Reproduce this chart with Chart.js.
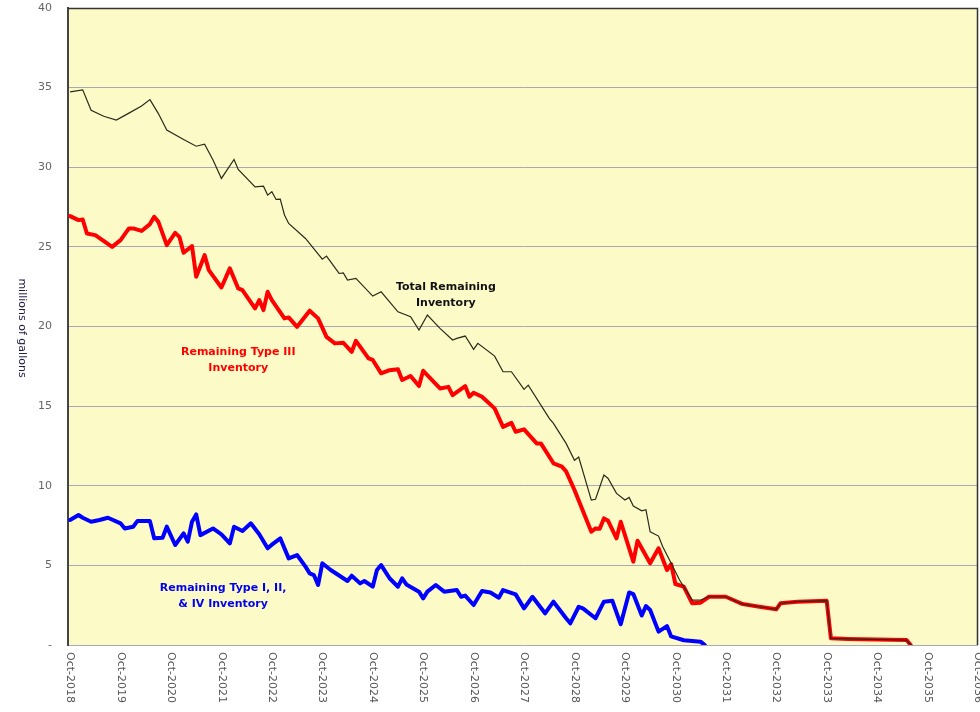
<!DOCTYPE html>
<html>
<head>
<meta charset="utf-8">
<script src="https://cdn.jsdelivr.net/npm/chart.js@4.4.1/dist/chart.umd.min.js"></script>
<style>
  html, body { margin: 0; padding: 0; background: #ffffff; }
  #wrap { width: 980px; height: 712px; position: relative; }
</style>
</head>
<body>
<div id="wrap"><canvas id="myChart"></canvas></div>
<script>
// x values are months after Oct-2018
var tickLabels = ['Oct-2018', 'Oct-2019', 'Oct-2020', 'Oct-2021', 'Oct-2022', 'Oct-2023', 'Oct-2024',
  'Oct-2025', 'Oct-2026', 'Oct-2027', 'Oct-2028', 'Oct-2029', 'Oct-2030', 'Oct-2031', 'Oct-2032',
  'Oct-2033', 'Oct-2034', 'Oct-2035', 'Oct-2036'];

var totalMonths = [0, 3, 5, 8, 11, 14, 17, 19, 21, 23, 27, 30, 32, 34, 36, 39, 40, 44, 46, 47, 48, 49, 50,
  51, 52, 56, 60, 61, 64, 65, 66, 68, 72, 74, 78, 81, 83, 85, 88, 91, 92, 94, 96, 97, 101, 103, 105, 108,
  109, 114, 115, 118, 120, 121, 124, 125, 127, 128, 130, 132, 133, 134, 136, 137, 138, 140, 141, 143, 145,
  147, 148, 150, 152, 156, 160, 164, 168, 169, 173, 180, 181, 185, 199, 200];
var totalValues = [34.73, 34.86, 33.58, 33.2, 32.96, 33.4, 33.84, 34.25, 33.37, 32.33, 31.74, 31.32, 31.45,
  30.45, 29.3, 30.49, 29.86, 28.77, 28.81, 28.25, 28.46, 27.98, 28.0, 27.0, 26.47, 25.53, 24.23, 24.42,
  23.33, 23.37, 22.91, 23.02, 21.91, 22.18, 20.92, 20.61, 19.77, 20.72, 19.88, 19.15, 19.25, 19.4, 18.56,
  18.94, 18.14, 17.16, 17.16, 16.05, 16.32, 14.23, 13.92, 12.66, 11.6, 11.8, 9.1, 9.15, 10.67, 10.46,
  9.52, 9.1, 9.27, 8.73, 8.43, 8.5, 7.11, 6.84, 6.17, 5.13, 4.08, 3.24, 2.82, 2.82, 3.03, 3.03, 2.57,
  2.4, 2.24, 2.62, 2.72, 2.78, 0.42, 0.38, 0.31, 0];

var typeIIIMonths = [0, 2, 3, 4, 6, 10, 12, 14, 15, 17, 19, 20, 21, 23, 25, 26, 27, 29, 30, 32, 33, 36, 38,
  40, 41, 44, 45, 46, 47, 48, 51, 52, 54, 57, 59, 61, 63, 65, 67, 68, 71, 72, 74, 76, 78, 79, 81, 83, 84,
  88, 90, 91, 94, 95, 96, 98, 101, 103, 105, 106, 108, 111, 112, 115, 117, 118, 120, 124, 125, 126, 127,
  128, 130, 131, 134, 135, 138, 140, 142, 143, 144, 146, 148, 150, 152, 156, 160, 164, 168, 169, 173,
  180, 181, 185, 199, 200];
var typeIIIValues = [26.93, 26.68, 26.72, 25.84, 25.74, 25.0, 25.42, 26.16, 26.16, 26.0, 26.43, 26.89,
  26.57, 25.11, 25.88, 25.63, 24.63, 25.05, 23.12, 24.48, 23.54, 22.45, 23.65, 22.39, 22.28, 21.14, 21.66,
  21.03, 22.18, 21.66, 20.51, 20.57, 19.98, 20.99, 20.51, 19.35, 18.94, 18.98, 18.41, 19.1, 18.0, 17.9,
  17.06, 17.26, 17.31, 16.64, 16.89, 16.26, 17.22, 16.11, 16.21, 15.69, 16.26, 15.59, 15.84, 15.59, 14.86,
  13.7, 13.95, 13.39, 13.54, 12.66, 12.66, 11.41, 11.2, 10.9, 9.73, 7.11, 7.32, 7.3, 7.95, 7.8, 6.7, 7.74,
  5.23, 6.55, 5.13, 6.07, 4.71, 5.08, 3.83, 3.66, 2.62, 2.66, 3.03, 3.03, 2.57, 2.4, 2.24, 2.62, 2.72,
  2.78, 0.42, 0.38, 0.31, 0];

var typeOtherMonths = [0, 2, 3, 5, 7, 9, 12, 13, 15, 16, 19, 20, 22, 23, 25, 27, 28, 29, 30, 31, 34, 36,
  38, 39, 41, 43, 45, 47, 48, 50, 52, 54, 56, 57, 58, 59, 60, 62, 66, 67, 69, 70, 72, 73, 74, 76, 78, 79,
  80, 83, 84, 85, 87, 89, 92, 93, 94, 96, 98, 100, 102, 103, 106, 108, 110, 113, 115, 118, 119, 121, 122,
  125, 127, 129, 131, 133, 134, 136, 137, 138, 140, 142, 143, 146, 150, 151];
var typeOtherValues = [7.85, 8.16, 7.99, 7.74, 7.85, 7.99, 7.64, 7.32, 7.43, 7.78, 7.78, 6.7, 6.74, 7.43,
  6.28, 7.01, 6.49, 7.74, 8.2, 6.9, 7.32, 6.95, 6.38, 7.43, 7.16, 7.64, 6.95, 6.07, 6.3, 6.7, 5.44, 5.65,
  4.92, 4.5, 4.39, 3.77, 5.13, 4.71, 4.02, 4.35, 3.87, 4.02, 3.66, 4.71, 5.02, 4.19, 3.66, 4.19, 3.8,
  3.35, 2.93, 3.35, 3.77, 3.35, 3.45, 3.03, 3.1, 2.51, 3.39, 3.3, 2.97, 3.45, 3.18, 2.3, 3.03, 1.99, 2.72,
  1.68, 1.36, 2.4, 2.3, 1.68, 2.72, 2.78, 1.3, 3.3, 3.2, 1.85, 2.45, 2.2, 0.84, 1.19, 0.54, 0.3, 0.21, 0];

function pts(xs, ys) {
  return xs.map(function (m, i) { return { x: m, y: ys[i] }; });
}

// text labels placed in data coordinates (month, value)
var notes = [
  { lines: ['Total Remaining', 'Inventory'], x: 89.4, y: 22.5, color: '#111111' },
  { lines: ['Remaining Type III', 'Inventory'], x: 40, y: 18.4, color: '#ff0000' },
  { lines: ['Remaining Type I, II,', '& IV Inventory'], x: 36.4, y: 3.6, color: '#0000ee' }
];

var decor = {
  id: 'decor',
  beforeDraw: function (chart) {
    var a = chart.chartArea, ctx = chart.ctx;
    ctx.save();
    ctx.fillStyle = 'rgb(252,251,200)';
    ctx.fillRect(a.left, a.top, a.right - a.left, a.bottom - a.top);
    ctx.restore();
  },
  beforeDatasetsDraw: function (chart) {
    var a = chart.chartArea, ctx = chart.ctx;
    ctx.save();
    ctx.strokeStyle = '#333333';
    ctx.lineWidth = 1.5;
    ctx.beginPath();
    ctx.moveTo(a.left, a.top + 0.5);
    ctx.lineTo(a.right - 0.5, a.top + 0.5);
    ctx.lineTo(a.right - 0.5, a.bottom);
    ctx.stroke();
    ctx.restore();
  },
  afterDraw: function (chart) {
    var ctx = chart.ctx, xs = chart.scales.x, ys = chart.scales.y;
    ctx.save();
    // x tick labels, reading downwards
    ctx.fillStyle = '#555555';
    ctx.font = '11px "DejaVu Sans"';
    ctx.textAlign = 'left';
    ctx.textBaseline = 'middle';
    tickLabels.forEach(function (t, i) {
      var px = xs.getPixelForValue(i * 12);
      ctx.save();
      ctx.translate(px, chart.chartArea.bottom + 7);
      ctx.rotate(Math.PI / 2);
      ctx.fillText(t, 0, 0);
      ctx.restore();
    });
    // y axis title
    ctx.save();
    ctx.fillStyle = '#1c1c44';
    ctx.textAlign = 'center';
    ctx.translate(22, 328);
    ctx.rotate(Math.PI / 2);
    ctx.fillText('millions of gallons', 0, 0);
    ctx.restore();
    // series notes
    ctx.font = 'bold 11px "DejaVu Sans"';
    ctx.textAlign = 'center';
    notes.forEach(function (n) {
      ctx.fillStyle = n.color;
      var px = xs.getPixelForValue(n.x), py = ys.getPixelForValue(n.y);
      n.lines.forEach(function (l, k) {
        ctx.fillText(l, px, py + k * 16);
      });
    });
    ctx.restore();
  }
};

var config = {
  type: 'line',
  data: {
    datasets: [
      {
        label: 'Total Remaining Inventory',
        data: pts(totalMonths, totalValues),
        borderColor: '#2a2a1a',
        borderWidth: 1.2,
        pointRadius: 0,
        order: 0
      },
      {
        label: 'Remaining Type III Inventory',
        data: pts(typeIIIMonths, typeIIIValues),
        borderColor: '#ff0000',
        borderWidth: 4,
        pointRadius: 0,
        borderJoinStyle: 'round',
        borderCapStyle: 'round',
        order: 1
      },
      {
        label: 'Remaining Type I, II, & IV Inventory',
        data: pts(typeOtherMonths, typeOtherValues),
        borderColor: '#0000ff',
        borderWidth: 4,
        pointRadius: 0,
        borderJoinStyle: 'round',
        borderCapStyle: 'round',
        order: 2
      }
    ]
  },
  options: {
    responsive: true,
    maintainAspectRatio: false,
    animation: false,
    layout: { padding: { top: 0, right: 2, left: 0, bottom: 0 } },
    plugins: {
      legend: { display: false },
      tooltip: { enabled: false }
    },
    elements: { line: { tension: 0, fill: false } },
    scales: {
      x: {
        type: 'linear',
        min: -0.5,
        max: 216,
        grid: { display: false },
        border: { display: false },
        ticks: { display: false, stepSize: 12 },
        afterFit: function (s) { s.height = 67; }
      },
      y: {
        min: 0,
        max: 40,
        afterFit: function (s) {
          s.width = 68;
          s.paddingTop = 8;
          s.paddingBottom = 0;
        },
        grid: { color: '#a9a9b6', lineWidth: 1, drawTicks: false },
        border: { display: true, color: '#444444', width: 2 },
        ticks: {
          stepSize: 5,
          padding: 16,
          color: '#666666',
          font: { family: 'DejaVu Sans', size: 11 },
          callback: function (v) { return v === 0 ? '-' : v; }
        }
      }
    }
  },
  plugins: [decor]
};

var myChart = new Chart(document.getElementById('myChart'), config);
</script>
</body>
</html>
